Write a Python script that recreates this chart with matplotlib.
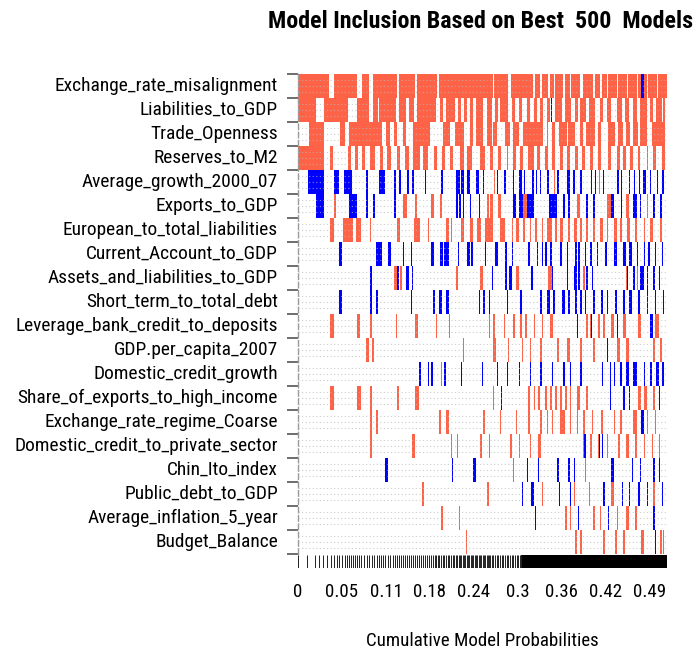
import matplotlib
matplotlib.use("Agg")
import matplotlib.pyplot as plt
from matplotlib import font_manager
import numpy as np

# prefer a narrow face; fall back to a regular one and shrink it to the same width
narrow_faces = ['Liberation Sans Narrow', 'Arial Narrow', 'Roboto Condensed',
                'DejaVu Sans Condensed', 'Open Sans Condensed', 'Noto Sans Condensed']
installed = {f.name for f in font_manager.fontManager.ttflist}
family = [f for f in narrow_faces if f in installed] + ['Liberation Sans', 'DejaVu Sans']
plt.rcParams['font.family'] = family

variables = [
    "Exchange_rate_misalignment", "Liabilities_to_GDP", "Trade_Openness",
    "Reserves_to_M2", "Average_growth_2000_07", "Exports_to_GDP",
    "European_to_total_liabilities", "Current_Account_to_GDP",
    "Assets_and_liabilities_to_GDP", "Short_term_to_total_debt",
    "Leverage_bank_credit_to_deposits", "GDP.per_capita_2007",
    "Domestic_credit_growth", "Share_of_exports_to_high_income",
    "Exchange_rate_regime_Coarse", "Domestic_credit_to_private_sector",
    "Chin_Ito_index", "Public_debt_to_GDP", "Average_inflation_5_year",
    "Budget_Balance",
]

total_prob = 0.49

# cumulative-probability ranges where each variable enters with a positive sign
pos_spans = [
    [(0, .041), (.048, .078), (.085, .094), (.100, .131), (.134, .155), (.158, .185),
     (.187, .259), (.260, .279), (.283, .312), (.315, .321), (.324, .332), (.335, .340),
     (.341, .352), (.355, .361), (.363, .375), (.378, .392), (.394, .401), (.404, .410),
     (.412, .424), (.425, .437), (.438, .450), (.452, .455), (.459, .463), (.465, .477),
     (.478, .490)],
    [(0, .024), (.034, .067), (.078, .094), (.100, .106), (.108, .130), (.134, .143),
     (.148, .154), (.158, .183), (.189, .192), (.197, .208), (.212, .216), (.221, .224),
     (.228, .232), (.236, .246), (.251, .257), (.262, .266), (.268, .279), (.284, .288),
     (.293, .297), (.304, .308), (.313, .317), (.321, .325), (.330, .335), (.341, .350),
     (.355, .363), (.368, .372), (.374, .383), (.387, .394), (.401, .405), (.410, .416),
     (.423, .430), (.434, .439), (.445, .450), (.454, .463), (.467, .472), (.476, .483),
     (.485, .488)],
    [(.014, .034), (.056, .062), (.068, .111), (.117, .122), (.127, .131), (.139, .144),
     (.153, .175), (.193, .202), (.208, .220), (.228, .233), (.237, .246), (.251, .257),
     (.259, .264), (.275, .282), (.286, .293), (.299, .326), (.330, .332), (.337, .341),
     (.346, .357), (.359, .368), (.374, .379), (.383, .394), (.399, .403), (.412, .421),
     (.425, .432), (.436, .441), (.445, .452), (.454, .463), (.470, .487)],
    [(0, .034), (.042, .047), (.067, .071), (.076, .080), (.085, .089), (.096, .102),
     (.109, .113), (.118, .124), (.131, .135), (.142, .147), (.153, .162), (.166, .173),
     (.180, .184), (.191, .195), (.202, .206), (.215, .220), (.224, .231), (.242, .248),
     (.255, .259), (.266, .270), (.277, .279), (.286, .290), (.295, .299), (.306, .313),
     (.317, .321), (.328, .332), (.337, .341), (.348, .352), (.357, .361), (.368, .372),
     (.377, .381), (.388, .392), (.399, .403), (.412, .416), (.423, .428), (.432, .436),
     (.441, .445), (.452, .454), (.463, .465), (.472, .476), (.483, .487)],
    [(.260, .261), (.340, .341), (.400, .401)],
    [(.048, .050), (.139, .145), (.155, .158), (.177, .180), (.188, .191), (.251, .254),
     (.255, .259), (.266, .270), (.299, .304), (.370, .374), (.410, .415), (.436, .439),
     (.463, .465)],
    [(.042, .048), (.060, .073), (.077, .083), (.095, .097), (.131, .135), (.154, .162),
     (.172, .174), (.197, .200), (.203, .205), (.217, .220), (.228, .233), (.238, .243),
     (.248, .259), (.268, .275), (.284, .286), (.290, .293), (.299, .301), (.308, .310),
     (.315, .317), (.324, .326), (.330, .337), (.341, .344), (.348, .352), (.359, .361),
     (.366, .370), (.375, .377), (.383, .385), (.392, .394), (.401, .405), (.410, .412),
     (.419, .423), (.428, .430), (.437, .441), (.448, .450), (.459, .461), (.468, .472),
     (.481, .483)],
    [],
    [(.127, .131), (.135, .138), (.210, .212), (.242, .246), (.290, .293), (.332, .337),
     (.379, .381), (.436, .437), (.450, .452)],
    [],
    [(.042, .048), (.079, .082), (.095, .098), (.130, .132), (.156, .160), (.183, .185),
     (.201, .202), (.253, .255), (.259, .262), (.273, .275), (.286, .288), (.295, .297),
     (.301, .304), (.313, .315), (.324, .326), (.335, .339), (.370, .371), (.383, .385),
     (.388, .389), (.399, .401), (.405, .408), (.416, .419), (.432, .436), (.452, .456),
     (.474, .479)],
    [(.090, .094), (.098, .101), (.208, .209), (.219, .221), (.259, .263), (.279, .280),
     (.297, .299), (.308, .310), (.322, .324), (.344, .346), (.357, .361), (.374, .377),
     (.392, .394), (.410, .411), (.423, .428), (.436, .439), (.472, .474), (.481, .484)],
    [(.190, .191), (.467, .468)],
    [(.042, .048), (.079, .084), (.095, .098), (.132, .134), (.155, .161), (.259, .260),
     (.306, .308), (.313, .315), (.319, .321), (.328, .330), (.335, .337), (.341, .344),
     (.348, .350), (.355, .357), (.361, .363), (.370, .374), (.383, .385), (.452, .456),
     (.459, .463), (.472, .474)],
    [(.095, .098), (.103, .106), (.187, .190), (.197, .200), (.246, .248), (.268, .270),
     (.290, .291), (.306, .308), (.322, .324), (.330, .332), (.337, .339), (.348, .355),
     (.361, .363), (.370, .372), (.379, .381), (.390, .392), (.403, .405), (.419, .421),
     (.428, .430), (.445, .450), (.463, .465), (.474, .476)],
    [(.095, .098), (.152, .155), (.203, .205), (.211, .213), (.242, .244), (.253, .255),
     (.282, .284), (.293, .295), (.308, .310), (.319, .323), (.379, .381), (.388, .390),
     (.399, .400), (.410, .412), (.425, .428), (.436, .439), (.448, .450), (.459, .461),
     (.470, .472), (.479, .481)],
    [(.236, .237), (.286, .287), (.381, .383)],
    [(.165, .167), (.251, .253), (.324, .326), (.366, .368), (.386, .388), (.416, .419),
     (.472, .474)],
    [(.190, .192), (.214, .215), (.355, .357), (.361, .363), (.392, .394), (.401, .403),
     (.423, .425), (.436, .439), (.448, .450)],
    [(.223, .225), (.368, .370), (.374, .377), (.405, .408), (.421, .423), (.432, .434),
     (.456, .459), (.481, .483), (.485, .486)],
]

# ranges where the variable enters with a negative sign
neg_spans = [
    [(.456, .459), (.463, .464)],
    [(.336, .337)],
    [],
    [],
    [(.013, .034), (.048, .055), (.061, .072), (.090, .093), (.107, .116), (.127, .130),
     (.134, .137), (.145, .148), (.152, .154), (.168, .170), (.190, .192), (.210, .215),
     (.217, .221), (.224, .228), (.236, .240), (.246, .247), (.264, .266), (.274, .276),
     (.285, .287), (.289, .290), (.293, .297), (.300, .302), (.305, .306), (.311, .313),
     (.316, .318), (.322, .323), (.331, .333), (.344, .346), (.357, .361), (.365, .368),
     (.375, .377), (.382, .383), (.389, .391), (.395, .396), (.405, .407), (.411, .412),
     (.424, .426), (.429, .430), (.440, .441), (.446, .448), (.453, .454), (.458, .462),
     (.468, .469), (.477, .478), (.484, .486)],
    [(.024, .034), (.068, .078), (.090, .093), (.099, .102), (.127, .130), (.210, .212),
     (.214, .217), (.219, .221), (.228, .230), (.240, .242), (.286, .290), (.293, .299),
     (.304, .313), (.333, .344), (.352, .354), (.359, .361), (.383, .385), (.392, .394),
     (.416, .419), (.429, .430), (.445, .450), (.454, .456), (.472, .474), (.481, .483)],
    [],
    [(.055, .059), (.104, .112), (.119, .124), (.139, .141), (.150, .152), (.177, .181),
     (.188, .192), (.194, .200), (.212, .214), (.225, .228), (.230, .232), (.248, .250),
     (.262, .266), (.275, .277), (.284, .286), (.306, .308), (.317, .319), (.324, .326),
     (.328, .330), (.335, .337), (.348, .350), (.357, .359), (.368, .370), (.372, .374),
     (.381, .383), (.388, .390), (.397, .399), (.408, .410), (.419, .423), (.432, .436),
     (.439, .443), (.450, .452), (.459, .461), (.465, .467), (.474, .476), (.483, .485)],
    [(.096, .098), (.131, .134), (.144, .147), (.151, .153), (.257, .259), (.275, .277),
     (.280, .284), (.310, .312), (.337, .339), (.357, .359), (.366, .370), (.372, .374),
     (.383, .385), (.390, .392), (.437, .438), (.445, .448), (.454, .459), (.463, .465),
     (.472, .474), (.479, .481)],
    [(.055, .059), (.095, .098), (.103, .106), (.150, .152), (.179, .182), (.187, .191),
     (.196, .200), (.240, .242), (.246, .248), (.253, .255), (.277, .279), (.295, .297),
     (.322, .324), (.330, .335), (.339, .341), (.350, .355), (.359, .361), (.368, .370),
     (.374, .377), (.381, .383), (.392, .394), (.403, .405), (.410, .412), (.421, .423),
     (.432, .434), (.439, .443), (.452, .454), (.463, .465), (.474, .476), (.485, .486)],
    [(.371, .372), (.389, .390), (.423, .425), (.467, .472)],
    [(.410, .411), (.459, .460)],
    [(.161, .163), (.172, .174), (.177, .179), (.194, .197), (.216, .218), (.232, .233),
     (.244, .246), (.264, .266), (.277, .279), (.293, .295), (.308, .310), (.322, .324),
     (.337, .339), (.352, .354), (.361, .363), (.374, .377), (.398, .399), (.404, .405),
     (.414, .416), (.419, .421), (.428, .430), (.436, .439), (.445, .450), (.459, .461),
     (.467, .470), (.476, .479), (.484, .486)],
    [(.269, .271), (.414, .416), (.432, .434), (.439, .441), (.479, .481)],
    [(.456, .459)],
    [(.380, .383), (.400, .401), (.404, .405)],
    [(.115, .119), (.205, .206), (.233, .236), (.304, .306), (.319, .320), (.344, .346),
     (.359, .361), (.366, .368), (.416, .419), (.443, .445), (.454, .456), (.472, .474),
     (.479, .481)],
    [(.273, .274), (.297, .299), (.310, .313), (.346, .348), (.361, .363), (.405, .408),
     (.430, .432), (.439, .441), (.452, .454), (.463, .465), (.483, .485)],
    [(.315, .316), (.372, .373), (.412, .413), (.472, .474), (.483, .484)],
    [(.390, .391), (.474, .476)],
]

# boundaries between consecutive models, best model first
model_edges = [
    0, .0124, .0221, .0283, .0336, .039, .0434, .0478, .0514, .0549, .0584, .062,
    .0655, .0682, .0708, .0735, .0761, .0788, .0806, .0841, .0881, .0912, .0947,
    .0983, .1014, .1045, .108, .1107, .1133, .116, .1191, .1222, .1257, .1284,
    .131, .1337, .1368, .139, .1417, .1443, .147, .1496, .1523, .1549, .1576,
    .1603, .1629, .1656, .1682, .1709, .1735, .1762, .1788, .1815, .1833, .1855,
    .1877, .1899, .1921, .1943, .1965, .1987, .201, .2032, .2054, .2076, .2098,
    .2116, .2134, .2151, .2169, .2187, .2204, .2222, .224, .2258, .2275, .2293,
    .2311, .2328, .2346, .2364, .2382, .2399, .2417, .2435, .2452, .247, .2488,
    .2506, .2524, .2541, .2556, .2572, .2594, .2616, .2638, .266, .2683, .2705,
    .2727, .2749, .2771, .2793, .2816, .2838, .286, .2882, .2904, .2926, .2942,
    .2957,
]

tick_labels = ["0", "0.05", "0.11", "0.18", "0.24", "0.3", "0.36", "0.42", "0.49"]
tick_step = 0.0584

red = "#ff6347"
blue = "#0000ff"

W, H = 699, 656
fig = plt.figure(figsize=(W / 100, H / 100), dpi=100)
renderer = fig.canvas.get_renderer()


def fx(px):
    return px / W


def fy(py):
    return 1 - py / H


def fitted_size(text, max_pt, width_px, **kw):
    """Largest font size (up to max_pt) that keeps text within width_px."""
    t = fig.text(0, 0, text, fontsize=max_pt, **kw)
    w = t.get_window_extent(renderer).width
    t.remove()
    return min(max_pt, max_pt * width_px / w)


ax = fig.add_axes([fx(298), fy(554), fx(369), 480 / H])
n = len(variables)

for i in range(n):
    for spans, col in ((pos_spans[i], red), (neg_spans[i], blue)):
        if spans:
            bars = [(a, b - a) for a, b in spans]
            ax.broken_barh(bars, (i, 1), facecolors=col, edgecolor="none",
                           linewidth=0, zorder=2)

# faint dotted guide lines inside each band
for i in range(n):
    for off in (0.25, 0.5, 0.75):
        ax.plot([0, total_prob], [i + off, i + off], color="#b8b8b8",
                lw=0.8, ls=(0, (1, 2.2)), alpha=0.7, zorder=3)

ax.set_xlim(0, total_prob)
ax.set_ylim(n, 0)
ax.set_xticks([])
ax.set_yticks(np.arange(n + 1))
ax.set_yticklabels([])
ax.tick_params(axis="y", length=8, width=1.2, color="#555555", pad=0)
for side in ("top", "right", "bottom"):
    ax.spines[side].set_visible(False)
ax.spines["left"].set_color("#9a9a9a")
ax.spines["left"].set_linestyle((0, (4, 2)))
ax.spines["left"].set_linewidth(1)

label_pt = fitted_size("Domestic_credit_to_private_sector", 16, 263)
for i, name in enumerate(variables):
    fig.text(fx(278), fy(74 + 24 * i + 12), name, ha="right", va="center",
             fontsize=label_pt)

# model-size ruler beneath the image
rx = fig.add_axes([fx(298), fy(568), fx(369), 13 / H])
rx.vlines(model_edges, 0, 1, color="#222222", lw=0.7)
rx.axvspan(model_edges[-1], total_prob, color="black", lw=0)
rx.set_xlim(0, total_prob)
rx.set_ylim(0, 1)
rx.axis("off")

tick_pt = fitted_size("0.05", 17, 33)
for k, lab in enumerate(tick_labels):
    xpix = 298 + k * tick_step / total_prob * 369
    fig.text(fx(xpix), fy(592), lab, ha="center", va="center", fontsize=tick_pt)

xlab = "Cumulative Model Probabilities"
fig.text(fx(482), fy(641), xlab, ha="center", va="center",
         fontsize=fitted_size(xlab, 15, 233))
title = "Model Inclusion Based on Best  500  Models"
fig.text(fx(481), fy(21), title, ha="center", va="center", fontweight="bold",
         fontsize=fitted_size(title, 19, 425, fontweight="bold"))

fig.savefig("out.png", dpi=100)
